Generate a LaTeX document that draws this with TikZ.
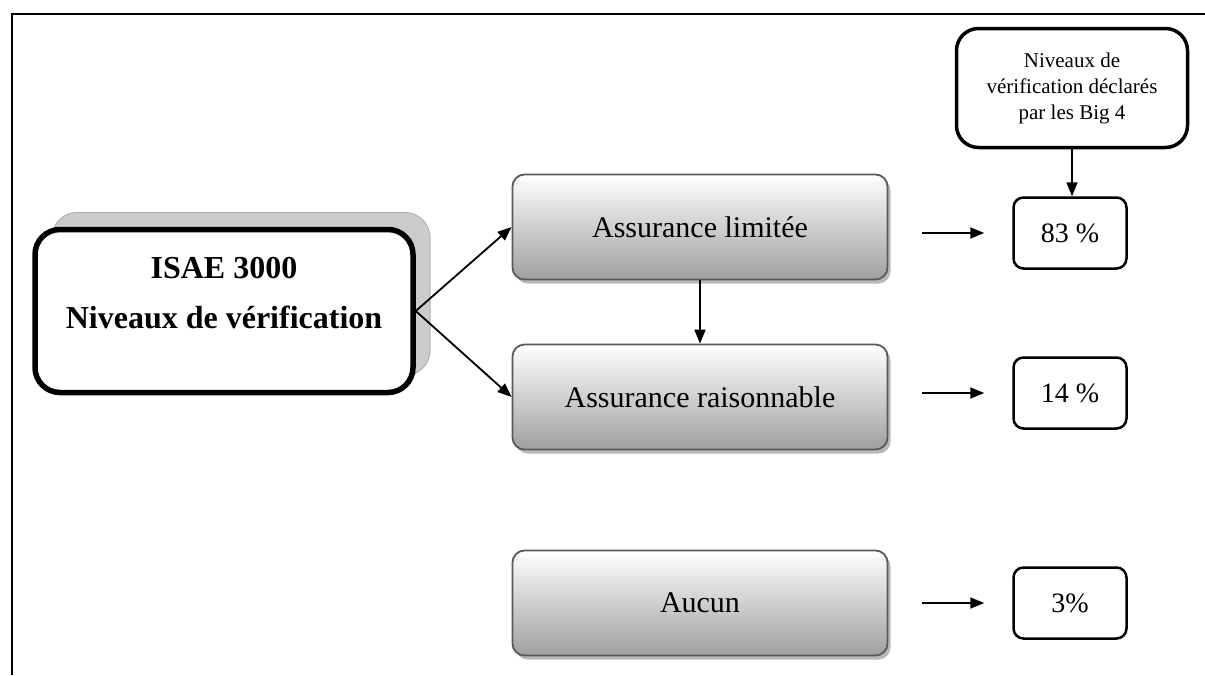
\documentclass[tikz,border=0pt]{standalone}
\usepackage{fontspec}
\setmainfont{Liberation Serif}
\usetikzlibrary{positioning}
\usetikzlibrary{arrows.meta,shadows}

\begin{document}
\begin{tikzpicture}[x=1pt, y=-1pt,
    niveau/.style={draw=gray!70!black, line width=1.8pt, rounded corners=12pt,
      top color=white, bottom color=gray!75, minimum width=375pt, minimum height=105pt,
      font=\fontsize{30}{36}\selectfont,
      drop shadow={shadow xshift=3pt, shadow yshift=-4pt, fill=gray!70, opacity=.8}},
    isaebox/.style={draw, line width=5.5pt, rounded corners=25pt, fill=white,
      minimum width=378pt, minimum height=163pt,
      copy shadow={shadow xshift=17pt, shadow yshift=17pt, fill=gray!40, draw=gray!60, line width=1pt}},
    titre/.style={align=center, font=\fontsize{32}{50}\selectfont\bfseries},
    bigbox/.style={draw, line width=3.5pt, rounded corners=22pt, fill=white,
      minimum width=231pt, minimum height=119pt, align=center,
      font=\fontsize{21}{26}\selectfont},
    pct/.style={draw, line width=2.5pt, rounded corners=10pt,
      minimum width=113pt, minimum height=71pt, font=\fontsize{28}{34}\selectfont},
    arr/.style={-{Triangle[length=14pt,width=11pt]}, line width=1.8pt}]
  \useasboundingbox (0,0) rectangle (1205,675);
  \draw[line width=2pt] (12,675) -- (12,14) -- (1205,14);

  % Noeuds
  \node[isaebox] (isae) at (224,311) {};
  \node[titre] (isaetxt) at ([yshift=18pt]isae.center) {ISAE 3000\\Niveaux de vérification};
  \node[niveau] (lim) at (700,227) {Assurance limitée};
  \node[niveau] (rai) at (700,397) {Assurance raisonnable};
  \node[niveau] (auc) at (700,603) {Aucun};
  \node[bigbox] (big) at (1072,88) {Niveaux de\\vérification déclarés\\par les Big 4};
  \node[pct] (p83) at (1070,233) {83 \%};
  \node[pct] (p14) at (1070,393) {14 \%};
  \node[pct] (p3) at (1070,603) {3\%};

  % Fleches
  \draw[arr] (isae.east) -- (lim.west);
  \draw[arr] (isae.east) -- (rai.west);
  \draw[arr] (lim.south) -- (rai.north);
  \draw[arr] (big.south) -- (big.south |- p83.north);
  \draw[arr] ([xshift=34pt]lim.east |- p83.west) -- ([xshift=-28pt]p83.west);
  \draw[arr] ([xshift=34pt]rai.east |- p14.west) -- ([xshift=-28pt]p14.west);
  \draw[arr] ([xshift=34pt]auc.east |- p3.west) -- ([xshift=-28pt]p3.west);
\end{tikzpicture}
\end{document}
